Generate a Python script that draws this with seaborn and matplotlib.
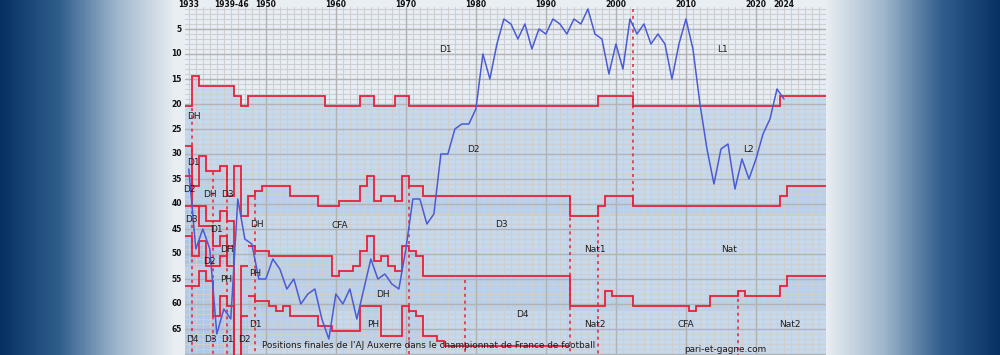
import numpy as np
import pandas as pd
import matplotlib
matplotlib.use("Agg")
import matplotlib.pyplot as plt
import seaborn as sns

sns.set_style("white")
plt.rcParams['font.family'] = ['DejaVu Sans']

# x = season slot: 0 = 1932-33 ... 6 = 1938-39, 7 = 1945-46 (war skipped) ... 91
# red boundaries between levels: edges (slot where a value starts) + values
d1_edges = [0, 1, 2, 7, 8, 9, 20, 25, 27, 30, 32, 59, 64, 85, 92]
d1_vals = [20.5, 14.5, 16.5, 18.5, 20.5, 18.5, 20.5, 18.5, 20.5, 18.5, 20.5, 18.5, 20.5, 18.5]

d2_edges = [0, 1, 2, 3, 5, 6, 7, 8, 9, 10, 11, 15, 19, 22, 25, 26, 27, 28, 30, 31, 32, 34, 55, 59, 60, 64, 85, 86, 92]
d2_vals = [28.5, 36.5, 30.5, 33.5, 32.5, 38.5, 32.5, 42.5, 38.5, 37.5, 36.5, 38.5, 40.5, 39.5,
           36.5, 34.5, 39.5, 38.5, 39.5, 34.5, 36.5, 38.5, 42.5, 40.5, 38.5, 40.5, 38.5, 36.5]

d3_edges = [9, 10, 12, 21, 22, 24, 25, 26, 27, 28, 29, 30, 31, 32, 33, 34, 55, 60, 61, 64, 72, 73, 75, 79, 80, 85, 86, 92]
d3_vals = [48.5, 49.5, 50.5, 54.5, 53.5, 52.5, 49.5, 46.5, 51.5, 50.5, 52.5, 53.5, 48.5, 49.5, 50.5,
           54.5, 60.5, 57.5, 58.5, 60.5, 61.5, 60.5, 58.5, 57.5, 58.5, 56.5, 54.5]

d4_edges = [9, 10, 12, 13, 14, 15, 19, 21, 25, 28, 31, 32, 33, 34, 36, 37, 55]
d4_vals = [58.5, 59.5, 60.5, 61.5, 60.5, 62.5, 64.5, 65.5, 60.5, 66.5, 60.5, 61.5, 62.5, 66.5, 67.5, 68.5]

# early regional levels (1932-1948), approximate
e1_edges = [0, 3, 5, 6, 7, 8, 9]
e1_vals = [40.5, 43.5, 41.5, 43.5, 72.0, 52.5]
e2_edges = [0, 1, 2, 3, 5, 6, 7]
e2_vals = [46.5, 50.5, 47.5, 52.5, 50.5, 48.5]
e3_edges = [0, 2, 3, 4, 5, 6, 7, 8, 9]
e3_vals = [56.5, 53.5, 55.5, 62.5, 58.5, 60.5, 72.0, 62.5]
e4_edges = [0, 1, 2, 4, 5, 6, 7]
e4_vals = [34.5, 40.5, 44.5, 48.5, 46.5, 52.5]

# AJ Auxerre final position (cumulative rank), one per season slot
slot = list(range(0, 86))
pos = [33, 49, 45, 49, 66, 61, 63, 39, 47, 48,
       55, 55, 51, 53, 57, 55, 60, 58, 57, 63,
       67, 58, 60, 57, 63, 57, 51, 55, 54, 56,
       57, 49, 39, 39, 44, 42, 30, 30, 25, 24,
       24, 21, 10, 15, 8, 3, 4, 7, 4, 9,
       5, 6, 3, 4, 6, 3, 4, 1, 6, 7,
       14, 8, 13, 3, 6, 4, 8, 6, 8, 15,
       8, 3, 9, 20, 29, 36, 29, 28, 37, 31,
       35, 31, 26, 23, 17, 19]

# dotted markers for the club's changes of level: slot, top / bottom position
chg_slot = [1, 4, 6, 10, 32, 40, 55, 59, 64, 79]
chg_top = [20.8, 33.6, 33.6, 37.2, 36.5, 55.2, 38.7, 40.5, 1.0, 57.7]
chg_bot = [70.5, 70.5, 70.5, 70.5, 70.5, 70.5, 70.5, 70.5, 40.5, 70.5]

year_lab = ["1933", "1939-46", "1950", "1960", "1970", "1980", "1990", "2000", "2010", "2020", "2024"]
year_slot = [0.5, 6.6, 11.5, 21.5, 31.5, 41.5, 51.5, 61.5, 71.5, 81.5, 85.5]
major_slot = [11.5, 21.5, 31.5, 41.5, 51.5, 61.5, 71.5, 81.5]

zone_txt = ["D1", "L1", "D2", "L2", "CFA", "D3", "Nat1", "Nat", "DH", "D4", "PH", "Nat2", "CFA", "Nat2",
            "DH", "D1", "D2", "DH", "D3", "D3", "D1", "DH", "D2", "DH", "PH", "PH", "D1",
            "D4", "D3", "D1", "D2"]
zone_x = [36.3, 76.0, 40.3, 79.6, 20.9, 44.3, 56.9, 76.5, 27.3, 47.3, 25.9, 56.9, 70.3, 84.8,
          0.2, 0.2, -0.3, 2.6, 5.1, 0.0, 3.5, 9.3, 2.6, 5.0, 5.0, 9.1, 9.1,
          0.1, 2.7, 5.1, 7.5]
zone_y = [9.2, 9.2, 29.2, 29.2, 44.3, 44.2, 49.2, 49.2, 58.2, 62.2, 64.2, 64.2, 64.2, 64.2,
          22.5, 31.7, 37.2, 38.2, 38.2, 43.2, 45.1, 44.2, 51.5, 49.2, 55.2, 54.0, 64.2,
          67.2, 67.2, 67.2, 67.2]

RED = "#e8203c"
BLUE = "#4b5bd4"

fig = plt.figure(figsize=(10, 3.55), dpi=100)

# side gradient background
grad = np.ones((2, 1000))
xx = np.arange(1000)
grad[:] = np.clip(np.minimum(xx / 175.0, (1000 - xx) / 175.0), 0, 1)
cmap = matplotlib.colors.LinearSegmentedColormap.from_list("bg", ["#06305f", "#2f5d8c", "#9fb6cc", "#e9eef3"])
bax = fig.add_axes([0, 0, 1, 1], zorder=0)
bax.imshow(grad, aspect="auto", cmap=cmap, extent=[0, 1, 0, 1])
bax.axis("off")

ax = fig.add_axes([0.1853, 0.0, 0.6407, (355 - 7) / 355], zorder=1)
ax.set_facecolor("#e8eef6")
ax.set_xlim(0, 91.5)
ax.set_ylim(70.2, 0.6)

lines = [(d2_vals, d2_edges), (d3_vals, d3_edges), (d4_vals, d4_edges),
         (e1_vals, e1_edges), (e2_vals, e2_edges), (e3_vals, e3_edges), (e4_vals, e4_edges)]

# fills
ax.stairs(d1_vals, d1_edges, baseline=71, fill=True, color="#c5d9ef", zorder=0.5, lw=0)
for vals, edges in lines:
    ax.stairs(vals, edges, baseline=min(max(vals), 70.5), fill=True, color="#90b4e0", alpha=0.22,
              zorder=0.6, lw=0)

# grid
for k in range(0, 92):
    ax.axvline(k + 0.5, color="#cfcfcf", lw=0.8, zorder=0.8)
for p in range(1, 71):
    ax.axhline(p, color="#cfcfcf", lw=0.8, zorder=0.8)
for k in major_slot:
    ax.axvline(k, color="#b3b3b3", lw=1.0, zorder=0.9)
for p in range(5, 71, 5):
    ax.axhline(p, color="#b3b3b3", lw=1.0, zorder=0.9)

for vals, edges in [(d1_vals, d1_edges)] + lines:
    ax.stairs(vals, edges, baseline=None, color=RED, lw=1.3, zorder=3)

ax.vlines(chg_slot, chg_top, chg_bot, colors=RED, lw=1.1, linestyles=(0, (2, 2.5)), zorder=3)

df = pd.DataFrame({"slot": np.array(slot) + 0.5, "pos": pos})
sns.lineplot(data=df, x="slot", y="pos", color=BLUE, lw=1.1, ax=ax, zorder=4)

for t, x, y in zip(zone_txt, zone_x, zone_y):
    ax.text(x, y, t, fontsize=6.5, color="#1e1e1e", ha="left", va="center", zorder=5)

ax.set_xticks([])
ax.set_yticks([])
ax.set_xlabel("")
ax.set_ylabel("")
for s in ax.spines.values():
    s.set_visible(False)

# labels outside the plot area
for t, k in zip(year_lab, year_slot):
    fig.text((185.3 + 7 * k) / 1000, 1 - 4.5 / 355, t, fontsize=5.5, fontweight="bold",
             ha="center", va="center", color="#111111")
for p in range(5, 70, 5):
    fig.text(182 / 1000, 1 - (4 + 5 * p) / 355, str(p), fontsize=5.5, fontweight="bold",
             ha="right", va="center", color="#111111")

fig.text(262 / 1000, 1 - 346 / 355, "Positions finales de l'AJ Auxerre dans le championnat de France de football",
         fontsize=6.4, color="#1a1a1a", ha="left", va="center")
fig.text(725 / 1000, 1 - 349.5 / 355, "pari-et-gagne.com", fontsize=6.4, color="#1a1a1a",
         ha="center", va="center")

fig.savefig("out.png", dpi=100)
